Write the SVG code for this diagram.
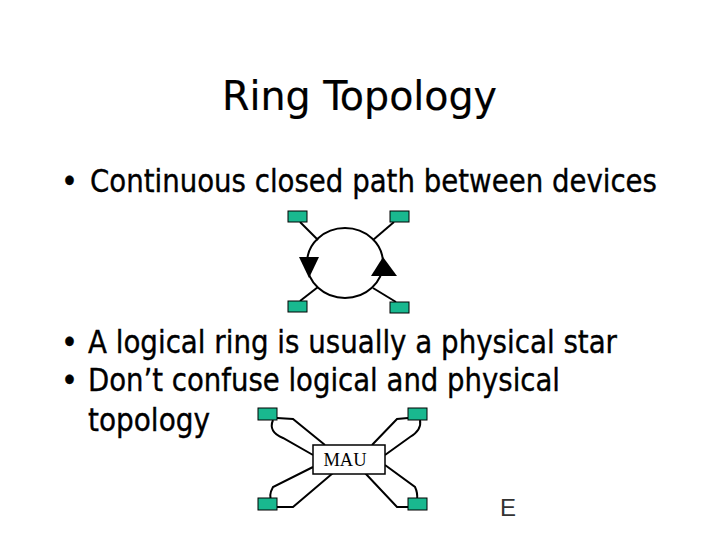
<svg xmlns="http://www.w3.org/2000/svg" width="720" height="540" viewBox="0 0 720 540">
<style>
.t{font-family:"DejaVu Sans Condensed","DejaVu Sans",Tahoma,Verdana,sans-serif;fill:#000;stroke:#000;stroke-width:0.35}
.title{font-size:41px;stroke-width:0.2}
.b{font-size:32px}
.node{fill:#19b88f;stroke:#000;stroke-width:1}
.ln{fill:none;stroke:#000;stroke-width:2}
.mau{font-family:"Liberation Serif","Times New Roman",serif;font-size:18.5px;fill:#000}
</style>
<rect width="720" height="540" fill="#fff"/>
<text class="t title" x="222" y="110" textLength="275" lengthAdjust="spacingAndGlyphs">Ring Topology</text>
<text class="t b" x="61" y="192">•</text>
<text class="t b" x="90" y="192" textLength="567" lengthAdjust="spacingAndGlyphs">Continuous closed path between devices</text>
<text class="t b" x="61" y="353">•</text>
<text class="t b" x="88" y="353" textLength="529" lengthAdjust="spacingAndGlyphs">A logical ring is usually a physical star</text>
<text class="t b" x="61" y="391">•</text>
<text class="t b" x="88" y="391" textLength="472" lengthAdjust="spacingAndGlyphs">Don’t confuse logical and physical</text>
<text class="t b" x="88" y="431" textLength="122" lengthAdjust="spacingAndGlyphs">topology</text>
<text x="500" y="516" font-family="'Liberation Sans',Arial,sans-serif" font-size="24" fill="#333">E</text>

<g id="connectors">
  <ellipse class="ln" cx="345" cy="263" rx="38" ry="35"/>
  <line class="ln" x1="300" y1="222" x2="318" y2="240"/>
  <line class="ln" x1="394" y1="222" x2="373" y2="240"/>
  <line class="ln" x1="300" y1="301" x2="318" y2="287"/>
  <line class="ln" x1="396" y1="302" x2="373" y2="288"/>
  <polygon points="299,257 319,257 309,278" fill="#000"/>
  <polygon points="383,257 397,276 371,276" fill="#000"/>

  <path class="ln" d="M277,418 L293,419 L325,445"/>
  <path class="ln" d="M273,420 Q268,432 283,438 L313,455"/>
  <path class="ln" d="M408,418 L397,419 L372,445"/>
  <path class="ln" d="M420,420 Q422,430 410,437 L385,455"/>
  <path class="ln" d="M313,467 L273,487 Q268,496 272,502"/>
  <path class="ln" d="M333,473 L293,507 L277,507"/>
  <path class="ln" d="M385,465 L415,487 Q418,493 417,500"/>
  <path class="ln" d="M365,473 L397,507 L408,507"/>
</g>

<g id="ring-node-tl"><rect class="node" x="288" y="211" width="19" height="11"/></g>
<g id="ring-node-tr"><rect class="node" x="390" y="211" width="19" height="11"/></g>
<g id="ring-node-bl"><rect class="node" x="288" y="301" width="19" height="11"/></g>
<g id="ring-node-br"><rect class="node" x="390" y="302" width="19" height="11"/></g>

<g id="mau"><rect x="313" y="445" width="72" height="29" fill="#fff" stroke="#000" stroke-width="1.5"/><text class="mau" x="345" y="466" text-anchor="middle">MAU</text></g>
<g id="star-node-tl"><rect class="node" x="258" y="408" width="19" height="12"/></g>
<g id="star-node-tr"><rect class="node" x="408" y="408" width="19" height="12"/></g>
<g id="star-node-bl"><rect class="node" x="258" y="498" width="19" height="12"/></g>
<g id="star-node-br"><rect class="node" x="408" y="498" width="19" height="12"/></g>
</svg>
